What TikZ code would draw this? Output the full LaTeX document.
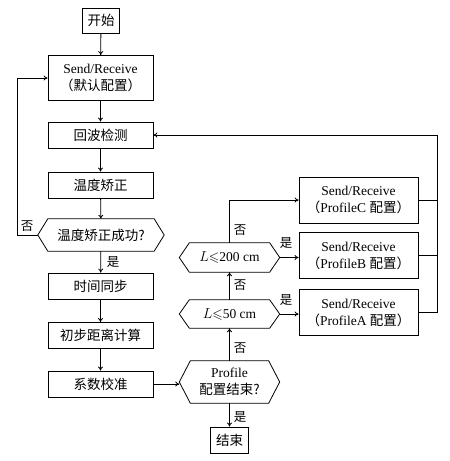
\documentclass[tikz,border=0pt]{standalone}
\usepackage{amssymb}
\usepackage{fontspec}
\setmainfont{Liberation Serif}
\newfontfamily\cjk{Noto Sans CJK SC}
\usetikzlibrary{arrows.meta,calc}
\newcommand\hexdraw[2]{\draw[line width=0.8pt] (#1.west) -- ([xshift=#2]#1.north west) -- ([xshift=-#2]#1.north east) -- (#1.east) -- ([xshift=-#2]#1.south east) -- ([xshift=#2]#1.south west) -- cycle;}
\tikzset{
  box/.style={draw, line width=0.8pt, minimum width=105pt, minimum height=26pt, inner sep=1pt, align=center, font=\fontsize{13.5}{17}\selectfont},
  hexbox/.style={minimum width=100pt, minimum height=28pt, inner sep=1pt, align=center, font=\fontsize{13.5}{17}\selectfont},
  arr/.style={line width=0.8pt, -{To[length=4pt,width=5pt]}},
  ln/.style={line width=0.8pt},
  lbl/.style={font=\cjk\fontsize{12.5}{14}\selectfont, inner sep=1pt}
}
\begin{document}
\begin{tikzpicture}[x=1pt,y=-1pt]
\useasboundingbox (0,0) rectangle (450,461);
% left column
\node[box, minimum width=37pt, minimum height=25pt] (start) at (101,20.5) {\cjk 开始};
\node[box, minimum height=45pt] (sr1) at (100.5,78) {Send/Receive\\{\cjk （默认配置）}};
\node[box] (echo) at (100.5,135) {\cjk 回波检测};
\node[box] (temp) at (100.5,185) {\cjk 温度矫正};
\node[hexbox, minimum width=126pt, minimum height=32pt] (tok) at (101,235) {\cjk 温度矫正成功?};
\hexdraw{tok}{10pt}
\node[box] (sync) at (100.5,286) {\cjk 时间同步};
\node[box] (dist) at (100.5,335.5) {\cjk 初步距离计算};
\node[box] (coef) at (100.5,384) {\cjk 系数校准};
% middle column
\node[hexbox, minimum height=42pt] (prof) at (229.5,382) {Profile\\{\cjk 配置结束?}};
\hexdraw{prof}{11pt}
\node[box, minimum width=38pt, minimum height=26pt] (end) at (229.5,440) {\cjk 结束};
\node[hexbox] (l50) at (229.5,314) {$L{\leqslant}$50 cm};
\hexdraw{l50}{10pt}
\node[hexbox, minimum height=29pt] (l200) at (229.5,257.5) {$L{\leqslant}$200 cm};
\hexdraw{l200}{10pt}
% right column
\node[box, minimum width=119pt, minimum height=46pt] (pC) at (358.5,200) {Send/Receive\\{\cjk （}ProfileC {\cjk 配置）}};
\node[box, minimum width=119pt, minimum height=46pt] (pB) at (358.5,255.5) {Send/Receive\\{\cjk （}ProfileB {\cjk 配置）}};
\node[box, minimum width=119pt, minimum height=46pt] (pA) at (358.5,312.5) {Send/Receive\\{\cjk （}ProfileA {\cjk 配置）}};
\coordinate (R) at (437,0);
% connectors
\draw[arr] (start) -- (sr1);
\draw[arr] (sr1) -- (echo);
\draw[arr] (echo) -- (temp);
\draw[arr] (temp) -- (tok);
\draw[arr] (tok) -- (sync);
\draw[arr] (sync) -- (dist);
\draw[arr] (dist) -- (coef);
\draw[arr] (tok.west) -- ++(-20,0) |- (sr1.west);
\draw[arr] (coef.east) -- (coef.east -| prof.west);
\draw[arr] (prof) -- (end);
\draw[arr] (prof) -- (l50);
\draw[arr] (l50) -- (l200);
\draw[arr] (l200.north) |- (pC.west);
\draw[arr] (l200.east) -- (l200.east -| pB.west);
\draw[arr] (l50.east) -- (l50.east -| pA.west);
\draw[ln] (pC.east) -- (pC.east -| R);
\draw[ln] (pB.east) -- (pB.east -| R);
\draw[arr] (pA.east) -- (pA.east -| R) |- (echo.east);
% labels
\node[lbl] at (27,226) {否};
\node[lbl] at (113,262) {是};
\node[lbl] at (240,230) {否};
\node[lbl] at (240,285) {否};
\node[lbl] at (240,348) {否};
\node[lbl] at (240,417) {是};
\node[lbl] at (286,243) {是};
\node[lbl] at (286,300) {是};
\end{tikzpicture}
\end{document}
